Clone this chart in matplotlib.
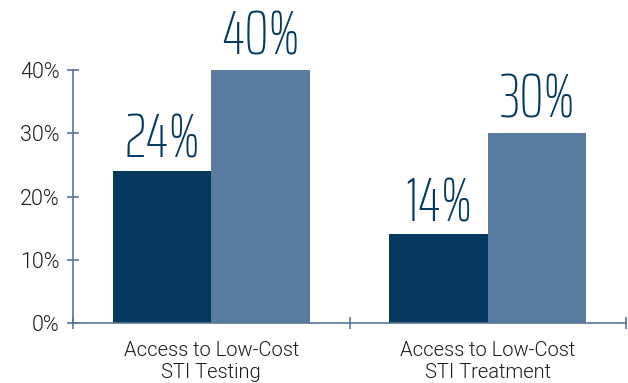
import matplotlib

matplotlib.use("Agg")
import matplotlib.pyplot as plt
import numpy as np

categories = ["Access to Low-Cost\nSTI Testing", "Access to Low-Cost\nSTI Treatment"]
series_a = [0.24, 0.14]
series_b = [0.40, 0.30]
y_ticks = [0.0, 0.1, 0.2, 0.3, 0.4]
y_tick_labels = ["0%", "10%", "20%", "30%", "40%"]

DARK = "#05395f"
LIGHT = "#5a7ba0"
AXIS = "#5b7696"
TEXT = "#1c1c1c"

plt.rcParams["font.family"] = ["Roboto", "DejaVu Sans"]
plt.rcParams["font.weight"] = 300

fig = plt.figure(figsize=(6.28, 3.83), dpi=100)
ax = fig.add_axes([73 / 628, 60 / 383, 553 / 628, 323 / 383])

x = np.arange(len(categories))
w = 0.357
ax.bar(x - w / 2, series_a, width=w, color=DARK)
ax.bar(x + w / 2, series_b, width=w, color=LIGHT)

big_font = ["Saira ExtraCondensed", "DejaVu Sans"]
for xi, v in zip(x - w / 2, series_a):
    ax.text(xi, v + 0.002, f"{v * 100:.0f}%", ha="center", va="bottom",
            fontsize=44, color=DARK, family=big_font, weight=200)
for xi, v in zip(x + w / 2, series_b):
    ax.text(xi, v + 0.006, f"{v * 100:.0f}%", ha="center", va="bottom",
            fontsize=44, color=DARK, family=big_font, weight=200)

ax.set_xlim(-0.5, 1.5)
ax.set_ylim(0, 0.5107)

for s in ("top", "right"):
    ax.spines[s].set_visible(False)
ax.spines["left"].set_bounds(0, 0.4)
for s in ("left", "bottom"):
    ax.spines[s].set_color(AXIS)
    ax.spines[s].set_linewidth(1.2)

ax.set_yticks(y_ticks)
ax.set_yticklabels(y_tick_labels, fontsize=15.5, color=TEXT)
ax.tick_params(axis="y", direction="inout", length=9, color=AXIS, width=1.2, pad=5)

# category boundaries carry the ticks, labels sit at the centres
ax.set_xticks([-0.5, 0.5, 1.5])
ax.set_xticklabels([])
ax.set_xticks(x, minor=True)
ax.set_xticklabels(categories, minor=True, fontsize=14.5, color=TEXT, linespacing=1.2)
ax.tick_params(axis="x", which="major", direction="inout", length=9, color=AXIS, width=1.2)
ax.tick_params(axis="x", which="minor", length=0, pad=13)

fig.savefig("out.png", dpi=100)
